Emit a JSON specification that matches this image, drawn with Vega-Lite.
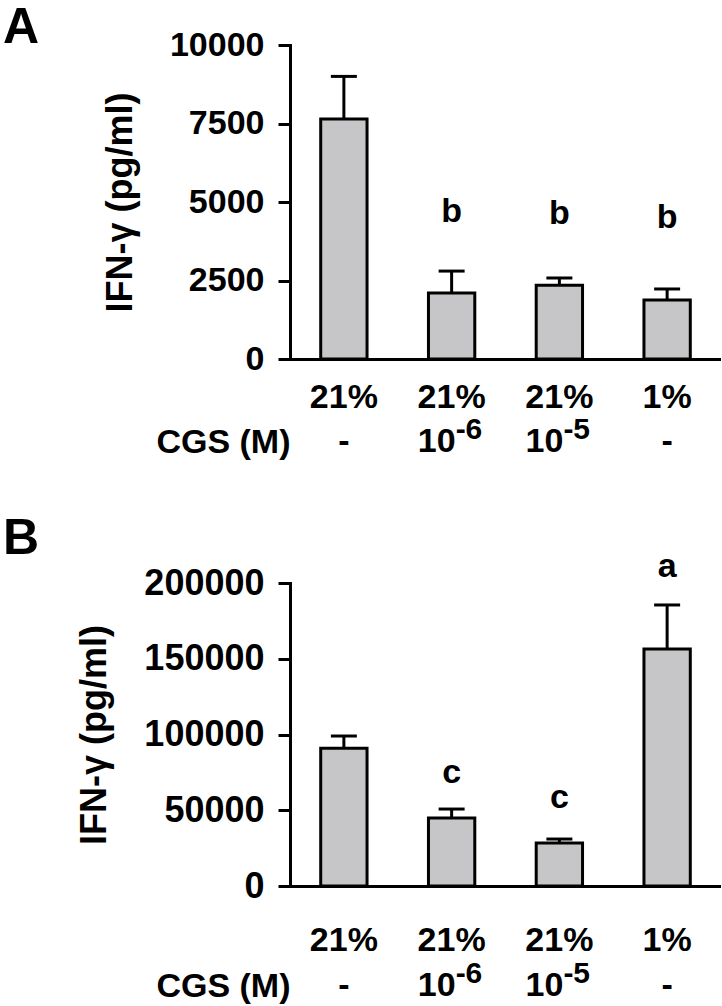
{
  "$schema": "https://vega.github.io/schema/vega-lite/v6.json",
  "background": "white",
  "padding": {"left": 3, "top": 3, "right": 0, "bottom": 0},
  "spacing": 0,
  "config": {
    "font": "Liberation Sans",
    "view": {"stroke": null},
    "axis": {
      "labelFont": "Liberation Sans", "labelFontSize": 34, "labelFontWeight": "bold", "labelColor": "black",
      "titleFont": "Liberation Sans", "titleFontSize": 36, "titleFontWeight": "bold", "titleColor": "black",
      "domainColor": "black", "domainWidth": 3, "domainCap": "square",
      "tickColor": "black", "tickWidth": 3, "tickSize": 12, "grid": false,
      "labelPadding": 14, "titlePadding": 30
    },
    "text": {"font": "Liberation Sans", "color": "black", "fontWeight": "bold"},
    "title": {"font": "Liberation Sans", "fontSize": 50, "fontWeight": "bold", "color": "black", "anchor": "start", "frame": "group"}
  },
  "vconcat": [
    {
      "title": {"text": "A", "dx": -287, "offset": -25},
      "width": 431, "height": 314,
      "data": {"values": [
        {"g": "1", "mean": 7640, "upper": 9000, "letter": "", "ly": 0},
        {"g": "2", "mean": 2100, "upper": 2800, "letter": "b", "ly": 4360},
        {"g": "3", "mean": 2350, "upper": 2580, "letter": "b", "ly": 4300},
        {"g": "4", "mean": 1880, "upper": 2230, "letter": "b", "ly": 4170}
      ]},
      "encoding": {
        "x": {"field": "g", "type": "nominal", "sort": null,
              "scale": {"type": "band", "paddingInner": 0.57, "paddingOuter": 0.285},
              "axis": {"labels": false, "ticks": false, "title": null}}
      },
      "layer": [
        {"mark": {"type": "rule", "color": "black", "strokeWidth": 3},
         "encoding": {
           "y": {"field": "mean", "type": "quantitative", "title": "IFN-γ (pg/ml)",
                 "scale": {"domain": [0, 10000], "nice": false},
                 "axis": {"values": [0, 2500, 5000, 7500, 10000], "format": "d"}},
           "y2": {"field": "upper"}}},
        {"mark": {"type": "tick", "color": "black", "size": 26, "thickness": 3, "opacity": 1},
         "encoding": {"y": {"field": "upper", "type": "quantitative", "title": "IFN-γ (pg/ml)"}}},
        {"mark": {"type": "bar", "fill": "#c6c6c8", "stroke": "black", "strokeWidth": 3},
         "encoding": {"y": {"field": "mean", "type": "quantitative", "title": "IFN-γ (pg/ml)"}}},
        {"transform": [{"filter": "datum.letter != ''"}],
         "mark": {"type": "text", "fontSize": 34, "baseline": "alphabetic", "align": "center"},
         "encoding": {"y": {"field": "ly", "type": "quantitative", "title": "IFN-γ (pg/ml)"},
                      "text": {"field": "letter"}}}
      ]
    },
    {
      "width": 431, "height": 137,
      "data": {"values": [
        {"g": "1", "row": "r1", "text": "21%", "exp": ""},
        {"g": "2", "row": "r1", "text": "21%", "exp": ""},
        {"g": "3", "row": "r1", "text": "21%", "exp": ""},
        {"g": "4", "row": "r1", "text": "1%", "exp": ""},
        {"g": "1", "row": "CGS (M)", "text": "-", "exp": ""},
        {"g": "2", "row": "CGS (M)", "text": "10", "exp": "-6"},
        {"g": "3", "row": "CGS (M)", "text": "10", "exp": "-5"},
        {"g": "4", "row": "CGS (M)", "text": "-", "exp": ""}
      ]},
      "encoding": {
        "x": {"field": "g", "type": "nominal", "sort": null,
              "scale": {"type": "band", "paddingInner": 0.57, "paddingOuter": 0.285}, "axis": null},
        "y": {"field": "row", "type": "nominal", "sort": ["r1", "CGS (M)"],
              "scale": {"type": "point", "range": [22, 66], "padding": 0},
              "axis": {"domain": false, "ticks": false, "title": null, "labelPadding": 0,
                       "labelExpr": "datum.value == 'r1' ? '' : datum.value"}}
      },
      "layer": [
        {"transform": [{"filter": "datum.exp == ''"}],
         "mark": {"type": "text", "fontSize": 34, "baseline": "middle", "align": "center"},
         "encoding": {"text": {"field": "text"}}},
        {"transform": [{"filter": "datum.exp != ''"}],
         "mark": {"type": "text", "fontSize": 34, "baseline": "middle", "align": "right", "dx": 4},
         "encoding": {"text": {"field": "text"}}},
        {"transform": [{"filter": "datum.exp != ''"}],
         "mark": {"type": "text", "fontSize": 30, "baseline": "middle", "align": "left", "dx": 4, "dy": -12},
         "encoding": {"text": {"field": "exp"}}}
      ]
    },
    {
      "title": {"text": "B", "dx": -287, "offset": -14},
      "width": 431, "height": 303,
      "data": {"values": [
        {"g": "1", "mean": 91000, "upper": 99000, "letter": "", "ly": 0},
        {"g": "2", "mean": 44900, "upper": 50800, "letter": "c", "ly": 68300},
        {"g": "3", "mean": 28400, "upper": 31000, "letter": "c", "ly": 51800},
        {"g": "4", "mean": 156400, "upper": 185500, "letter": "a", "ly": 204000}
      ]},
      "encoding": {
        "x": {"field": "g", "type": "nominal", "sort": null,
              "scale": {"type": "band", "paddingInner": 0.57, "paddingOuter": 0.285},
              "axis": {"labels": false, "ticks": false, "title": null}}
      },
      "layer": [
        {"mark": {"type": "rule", "color": "black", "strokeWidth": 3},
         "encoding": {
           "y": {"field": "mean", "type": "quantitative", "title": "IFN-γ (pg/ml)",
                 "scale": {"domain": [0, 200000], "nice": false},
                 "axis": {"values": [0, 50000, 100000, 150000, 200000], "format": "d", "labelFontSize": 36}},
           "y2": {"field": "upper"}}},
        {"mark": {"type": "tick", "color": "black", "size": 26, "thickness": 3, "opacity": 1},
         "encoding": {"y": {"field": "upper", "type": "quantitative", "title": "IFN-γ (pg/ml)"}}},
        {"mark": {"type": "bar", "fill": "#c6c6c8", "stroke": "black", "strokeWidth": 3},
         "encoding": {"y": {"field": "mean", "type": "quantitative", "title": "IFN-γ (pg/ml)"}}},
        {"transform": [{"filter": "datum.letter != ''"}],
         "mark": {"type": "text", "fontSize": 34, "baseline": "alphabetic", "align": "center"},
         "encoding": {"y": {"field": "ly", "type": "quantitative", "title": "IFN-γ (pg/ml)"},
                      "text": {"field": "letter"}}}
      ]
    },
    {
      "width": 431, "height": 100,
      "data": {"values": [
        {"g": "1", "row": "r1", "text": "21%", "exp": ""},
        {"g": "2", "row": "r1", "text": "21%", "exp": ""},
        {"g": "3", "row": "r1", "text": "21%", "exp": ""},
        {"g": "4", "row": "r1", "text": "1%", "exp": ""},
        {"g": "1", "row": "CGS (M)", "text": "-", "exp": ""},
        {"g": "2", "row": "CGS (M)", "text": "10", "exp": "-6"},
        {"g": "3", "row": "CGS (M)", "text": "10", "exp": "-5"},
        {"g": "4", "row": "CGS (M)", "text": "-", "exp": ""}
      ]},
      "encoding": {
        "x": {"field": "g", "type": "nominal", "sort": null,
              "scale": {"type": "band", "paddingInner": 0.57, "paddingOuter": 0.285}, "axis": null},
        "y": {"field": "row", "type": "nominal", "sort": ["r1", "CGS (M)"],
              "scale": {"type": "point", "range": [37, 82], "padding": 0},
              "axis": {"domain": false, "ticks": false, "title": null, "labelPadding": 0,
                       "labelExpr": "datum.value == 'r1' ? '' : datum.value"}}
      },
      "layer": [
        {"transform": [{"filter": "datum.exp == ''"}],
         "mark": {"type": "text", "fontSize": 34, "baseline": "middle", "align": "center"},
         "encoding": {"text": {"field": "text"}}},
        {"transform": [{"filter": "datum.exp != ''"}],
         "mark": {"type": "text", "fontSize": 34, "baseline": "middle", "align": "right", "dx": 4},
         "encoding": {"text": {"field": "text"}}},
        {"transform": [{"filter": "datum.exp != ''"}],
         "mark": {"type": "text", "fontSize": 30, "baseline": "middle", "align": "left", "dx": 4, "dy": -12},
         "encoding": {"text": {"field": "exp"}}}
      ]
    }
  ]
}
